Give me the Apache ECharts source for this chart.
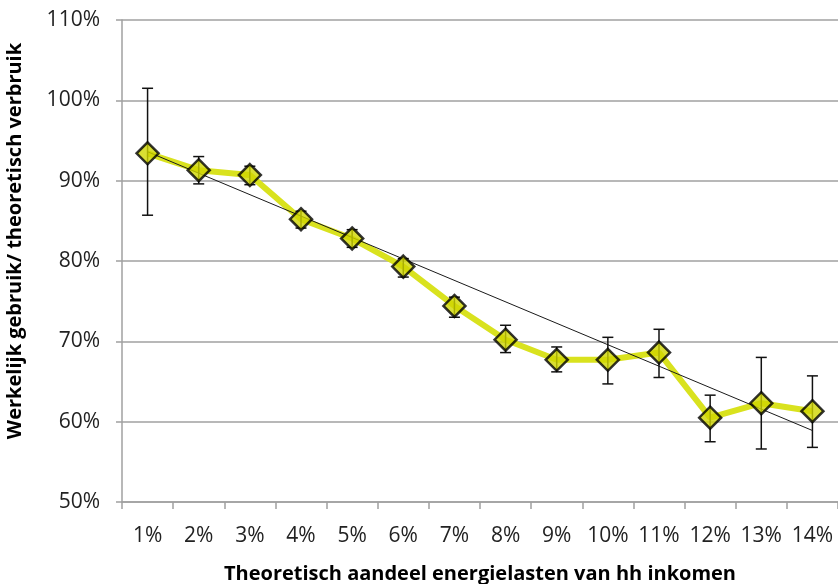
<!DOCTYPE html>
<html>
<head>
<meta charset="utf-8">
<script src="https://cdn.jsdelivr.net/npm/echarts@6/dist/echarts.min.js"></script>
<style>
html,body{margin:0;padding:0;background:#fff;}
#chart{width:838px;height:584px;}
</style>
</head>
<body>
<div id="chart"></div>
<script>
var categories = ['1%','2%','3%','4%','5%','6%','7%','8%','9%','10%','11%','12%','13%','14%'];
var values = [93.4, 91.3, 90.7, 85.2, 82.8, 79.3, 74.4, 70.2, 67.7, 67.7, 68.6, 60.5, 62.3, 61.3];
var errLow = [85.7, 89.6, 89.5, 84.1, 81.7, 78.0, 73.0, 68.6, 66.2, 64.7, 65.5, 57.5, 56.6, 56.8];
var errHigh = [101.5, 93.0, 91.8, 86.2, 83.9, 80.3, 75.5, 72.0, 69.3, 70.5, 71.5, 63.3, 68.0, 65.7];
var trendStart = 93.6;
var trendEnd = 58.9;

var errData = categories.map(function (c, i) { return [i, errLow[i], errHigh[i]]; });
var trendData = [[0, trendStart], [categories.length - 1, trendEnd]];

var chart = echarts.init(document.getElementById('chart'));
var font = '"Open Sans", sans-serif';
chart.setOption({
  animation: false,
  backgroundColor: '#fff',
  grid: { left: 122, right: 0, top: 20, bottom: 82, containLabel: false, outerBoundsMode: 'none' },
  xAxis: {
    type: 'category',
    data: categories,
    boundaryGap: true,
    name: 'Theoretisch aandeel energielasten van hh inkomen',
    nameLocation: 'middle',
    nameGap: 62,
    nameTextStyle: { fontFamily: font, fontSize: 20, fontWeight: 'bold', color: '#000' },
    axisLine: { show: true, lineStyle: { color: '#a0a0a0', width: 1.5 } },
    axisTick: { show: true, interval: 0, length: 7, lineStyle: { color: '#a0a0a0', width: 1.5 } },
    axisLabel: { interval: 0, fontFamily: font, fontSize: 21, color: '#222', margin: 24 },
    splitLine: { show: false }
  },
  yAxis: {
    type: 'value',
    min: 50, max: 110, interval: 10,
    name: 'Werkelijk gebruik/ theoretisch verbruik',
    nameLocation: 'middle',
    nameGap: 97,
    nameTextStyle: { fontFamily: font, fontSize: 20, fontWeight: 'bold', color: '#000', padding: [0, 0, 0, 40] },
    axisLine: { show: true, lineStyle: { color: '#a0a0a0', width: 1.5 } },
    axisTick: { show: true, length: 6, lineStyle: { color: '#a0a0a0', width: 1.5 } },
    axisLabel: { fontFamily: font, fontSize: 21, color: '#222', margin: 22, formatter: '{value}%' },
    splitLine: { show: true, lineStyle: { color: '#a0a0a0', width: 1.5 } }
  },
  series: [
    {
      type: 'line',
      data: values,
      showSymbol: false,
      symbol: 'none',
      z: 2,
      lineStyle: { color: '#d9e21e', width: 6 }
    },
    {
      type: 'line',
      data: trendData,
      symbol: 'none',
      z: 3,
      lineStyle: { color: '#1a1a1a', width: 1 }
    },
    {
      type: 'custom',
      z: 4,
      data: errData,
      renderItem: function (params, api) {
        var x = api.value(0);
        var lo = api.coord([x, api.value(1)]);
        var hi = api.coord([x, api.value(2)]);
        var w = 5.5;
        var style = { stroke: '#111', lineWidth: 1.5 };
        return {
          type: 'group',
          children: [
            { type: 'line', shape: { x1: lo[0], y1: lo[1], x2: hi[0], y2: hi[1] }, style: style },
            { type: 'line', shape: { x1: hi[0] - w, y1: hi[1], x2: hi[0] + w, y2: hi[1] }, style: style },
            { type: 'line', shape: { x1: lo[0] - w, y1: lo[1], x2: lo[0] + w, y2: lo[1] }, style: style }
          ]
        };
      }
    },
    {
      type: 'scatter',
      data: values,
      symbol: 'diamond',
      symbolSize: 22,
      z: 5,
      itemStyle: { color: '#cfd600', borderColor: '#000', borderWidth: 2.5 }
    }
  ]
});
</script>
</body>
</html>
